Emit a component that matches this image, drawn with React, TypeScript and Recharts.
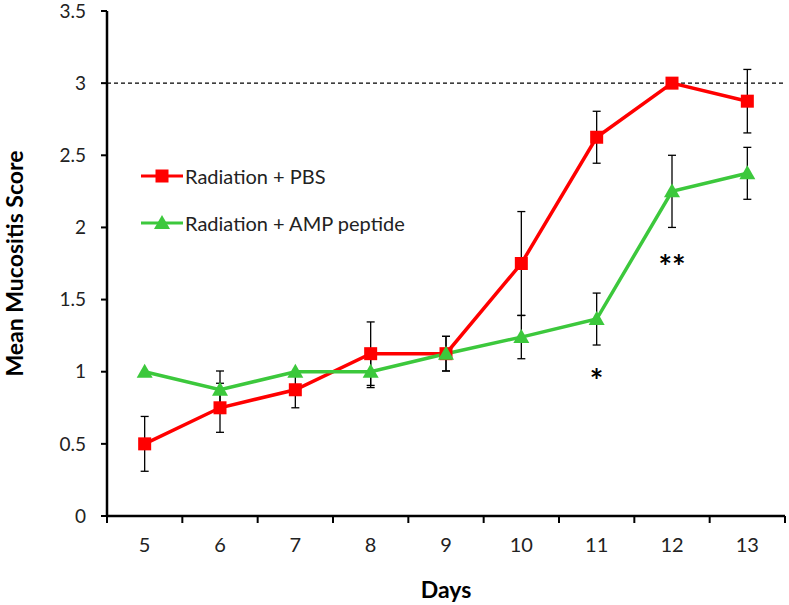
import React from "react";
import {
  LineChart,
  Line,
  XAxis,
  YAxis,
  ErrorBar,
  ReferenceLine,
  ReferenceDot,
  Legend,
  Label
} from "recharts";

const days = [5, 6, 7, 8, 9, 10, 11, 12, 13];
const pbsMean = [0.5, 0.75, 0.875, 1.125, 1.125, 1.75, 2.625, 3.0, 2.875];
const pbsErr = [0.19, 0.17, 0.125, 0.22, 0.12, 0.36, 0.18, 0, 0.22];
const ampMean = [1.0, 0.875, 1.0, 1.0, 1.125, 1.24, 1.365, 2.25, 2.375];
const ampErr = [0, 0.13, 0, 0.11, 0.12, 0.15, 0.18, 0.25, 0.18];

const yTicks = [0, 0.5, 1, 1.5, 2, 2.5, 3, 3.5];
// integer ticks carry labels, half ticks are the tick marks between days
const xTicks = [4.5, 5, 5.5, 6, 6.5, 7, 7.5, 8, 8.5, 9, 9.5, 10, 10.5, 11, 11.5, 12, 12.5, 13, 13.5];

const stars = [
  { day: 11, y: 0.93, text: "*" },
  { day: 12, y: 1.72, text: "**" }
];

const RED = "#ff0000";
const GREEN = "#3cc83c";
const FONT = "Lato, 'Open Sans', sans-serif";

const data = days.map((d, i) => ({
  day: d,
  pbs: pbsMean[i],
  pbsErr: pbsErr[i],
  amp: ampMean[i],
  ampErr: ampErr[i]
}));

const SquareDot = (props: any) => {
  const { cx, cy, index } = props;
  return <rect key={`sq${index}`} x={cx - 6.5} y={cy - 6.5} width={13} height={13} fill={RED} />;
};

const TriangleDot = (props: any) => {
  const { cx, cy, index } = props;
  return (
    <polygon
      key={`tr${index}`}
      points={`${cx},${cy - 8} ${cx - 8},${cy + 6} ${cx + 8},${cy + 6}`}
      fill={GREEN}
    />
  );
};

const DayTick = (props: any) => {
  const { x, y, payload } = props;
  const v = payload.value;
  if (Number.isInteger(v)) {
    return (
      <text x={x} y={y + 36} textAnchor="middle" fontSize={20} fill="#222" fontFamily={FONT}>
        {v}
      </text>
    );
  }
  return <line x1={x} x2={x} y1={y} y2={y + 7} stroke="#000" strokeWidth={2} />;
};

const renderLegend = (props: any) => {
  const items = [...props.payload].sort((a: any, b: any) =>
    a.dataKey === "pbs" ? -1 : b.dataKey === "pbs" ? 1 : 0
  );
  return (
    <div style={{ fontFamily: FONT, fontSize: 20, color: "#222" }}>
      {items.map((entry: any) => (
        <div key={entry.value} style={{ display: "flex", alignItems: "center", height: 47 }}>
          <svg width={44} height={18}>
            <line x1={1} x2={43} y1={9} y2={9} stroke={entry.color} strokeWidth={3} />
            {entry.dataKey === "pbs" ? (
              <rect x={15.5} y={2.5} width={13} height={13} fill={entry.color} />
            ) : (
              <polygon points="22,1 14,15 30,15" fill={entry.color} />
            )}
          </svg>
          <span style={{ marginLeft: 1 }}>{entry.value}</span>
        </div>
      ))}
    </div>
  );
};

export default function App() {
  return (
    <div style={{ position: "absolute", left: 0, top: 0, background: "#fff" }}>
      <LineChart
        width={789}
        height={605}
        data={data}
        margin={{ top: 11, right: 4, left: 0, bottom: 29 }}
      >
        <XAxis
          dataKey="day"
          type="number"
          domain={[4.5, 13.5]}
          ticks={xTicks}
          interval={0}
          tick={<DayTick />}
          tickLine={false}
          tickSize={0}
          tickMargin={0}
          height={60}
          axisLine={{ stroke: "#000", strokeWidth: 2.5 }}
        >
          <Label
            value="Days"
            position="bottom"
            offset={6}
            style={{ fontFamily: FONT, fontSize: 23, fontWeight: 700, fill: "#000" }}
          />
        </XAxis>
        <YAxis
          type="number"
          domain={[0, 3.5]}
          ticks={yTicks}
          interval={0}
          width={107}
          tickSize={6}
          tickMargin={15}
          tick={{ fontFamily: FONT, fontSize: 19, fill: "#222" }}
          tickLine={{ stroke: "#000", strokeWidth: 2 }}
          axisLine={{ stroke: "#000", strokeWidth: 2.5 }}
        >
          <Label
            value="Mean Mucositis Score"
            angle={-90}
            position="insideLeft"
            offset={15}
            style={{ fontFamily: FONT, fontSize: 23, fontWeight: 700, fill: "#000", textAnchor: "middle" }}
          />
        </YAxis>
        <ReferenceLine y={3} stroke="#000" strokeWidth={1.2} strokeDasharray="4 3" />
        <Legend
          content={renderLegend}
          layout="vertical"
          verticalAlign="middle"
          align="center"
          wrapperStyle={{ left: 140, top: 152, width: 320 }}
        />
        <Line
          name="Radiation + PBS"
          dataKey="pbs"
          stroke={RED}
          strokeWidth={3.5}
          dot={<SquareDot />}
          activeDot={false}
          isAnimationActive={false}
        >
          <ErrorBar dataKey="pbsErr" width={4} stroke="#000" strokeWidth={1.3} direction="y" />
        </Line>
        <Line
          name="Radiation + AMP peptide"
          dataKey="amp"
          stroke={GREEN}
          strokeWidth={3.5}
          dot={<TriangleDot />}
          activeDot={false}
          isAnimationActive={false}
        >
          <ErrorBar dataKey="ampErr" width={4} stroke="#000" strokeWidth={1.3} direction="y" />
        </Line>
        {stars.map((s) => (
          <ReferenceDot
            key={s.day}
            x={s.day}
            y={s.y}
            r={0}
            stroke="none"
            label={{
              value: s.text,
              position: "center",
              style: { fontFamily: FONT, fontSize: 32, fontWeight: 700, fill: "#000" }
            }}
          />
        ))}
      </LineChart>
    </div>
  );
}
